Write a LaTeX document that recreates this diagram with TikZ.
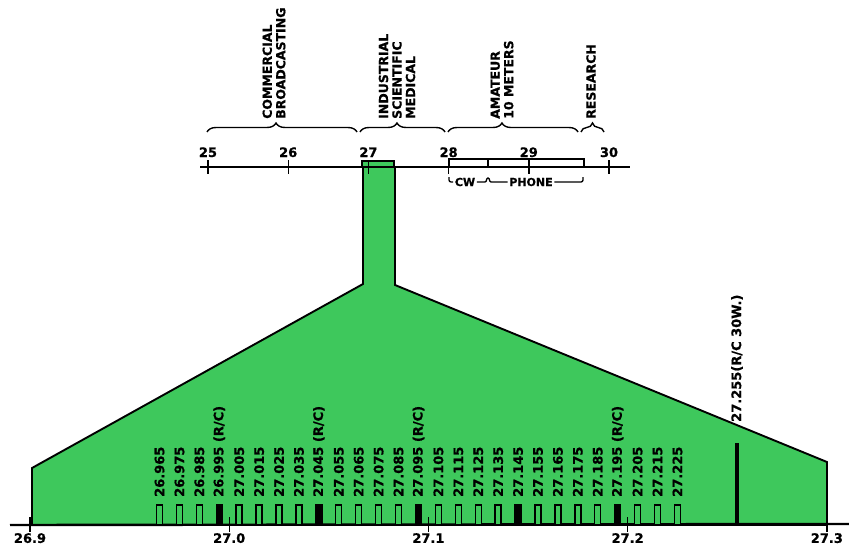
\documentclass[tikz,border=0pt]{standalone}
\usepackage{fontspec}
\setmainfont{DejaVu Sans}[BoldFeatures={FakeBold=0.8}]
\usetikzlibrary{decorations.pathreplacing}

\definecolor{cbgreen}{RGB}{62,200,92}
\newcommand{\rcmark}{ (R/C)}

\tikzset{
  chlabel/.style={rotate=90, anchor=west, inner sep=0pt, font=\bfseries\fontsize{13}{13}\selectfont},
  bandlabel/.style={rotate=90, anchor=west, inner sep=0pt, align=left, font=\bfseries\fontsize{12.5}{13.5}\selectfont},
  axlabel/.style={inner sep=0pt, font=\bfseries\fontsize{13}{13}\selectfont},
  bandbrace/.style={decorate, line width=1.4pt},
}

\begin{document}
\begin{tikzpicture}[x=1pt,y=-1pt]
\useasboundingbox (0,0) rectangle (849,546);

% the 26.9 - 27.3 slice, blown up
\filldraw[fill=cbgreen, draw=black, line width=1.9pt] (32,525) -- (32,468) -- (363,284) -- (363,167) -- (395,167) -- (395,285) -- (827,462) -- (827,525) -- cycle;
\filldraw[fill=cbgreen, draw=black, line width=1.4pt] (362,161) rectangle (394,167);

% upper scale, 25 - 30 mc
\draw[line width=2.4pt] (200,167) -- (630,167);
\foreach \m [count=\k from 0] in {25,...,30} {
  \draw[line width=1.4pt] (208+80.2*\k,160) -- (208+80.2*\k,174);
  \node[axlabel, anchor=base] (mhz\m) at (208+80.2*\k,157) {\m};
}
\draw[line width=1.1pt] (449,159) rectangle (584,167);
\draw[line width=1.1pt] (488,159) -- (488,167);

\node[font=\bfseries\fontsize{11}{11}\selectfont, inner sep=1.5pt] (cw) at (465,182) {CW};
\node[font=\bfseries\fontsize{11}{11}\selectfont, inner sep=1.5pt] (phone) at (531,182) {PHONE};
\draw[line width=1.3pt, rounded corners=2pt] (449,177) |- (cw.west);
\draw[line width=1.3pt] (cw.east) -- (485,182) to[out=0,in=180] (488,178) to[out=0,in=180] (491,182) -- (phone.west);
\draw[line width=1.3pt, rounded corners=2pt] (phone.east) -| (583,177);

% services
\foreach \a/\b/\asp in {207/357/0.46, 360/445/0.435, 448/578/0.415, 581/604/0.5}
  \draw[bandbrace, decoration={brace, amplitude=9pt, aspect=\asp}] (\a,132) -- (\b,132);
\node[bandlabel] (commercial) at (274,119) {COMMERCIAL\\BROADCASTING};
\node[bandlabel] (ism) at (397,119) {INDUSTRIAL\\SCIENTIFIC\\MEDICAL};
\node[bandlabel] (amateur) at (502,119) {AMATEUR\\10 METERS};
\node[bandlabel] (research) at (591,119) {RESEARCH};

% lower scale
\draw[line width=2.4pt] (10,525) -- (849,524);
\foreach \f [count=\k from 0] in {26.9,27.0,27.1,27.2,27.3} {
  \draw[line width=1.4pt] (30+199.2*\k,517) -- (30+199.2*\k,532);
  \node[axlabel, anchor=north] (f\k) at (30+199.2*\k,533) {\f};
}

% citizens band channels
\foreach \lab/\sfx/\col [count=\i from 0] in {26.965//cbgreen, 26.975//cbgreen, 26.985//cbgreen, 26.995/\rcmark/black, 27.005//cbgreen,
    27.015//cbgreen, 27.025//cbgreen, 27.035//cbgreen, 27.045/\rcmark/black, 27.055//cbgreen,
    27.065//cbgreen, 27.075//cbgreen, 27.085//cbgreen, 27.095/\rcmark/black, 27.105//cbgreen,
    27.115//cbgreen, 27.125//cbgreen, 27.135//cbgreen, 27.145//black, 27.155//cbgreen,
    27.165//cbgreen, 27.175//cbgreen, 27.185//cbgreen, 27.195/\rcmark/black, 27.205//cbgreen,
    27.215//cbgreen, 27.225//cbgreen} {
  \filldraw[fill=\col, draw=black, line width=1.4pt] (156.5+19.92*\i,505) rectangle (162.5+19.92*\i,525);
  \node[chlabel] (ch\i) at (159.5+19.92*\i,497) {\lab\sfx};
}
\draw[line width=4.2pt] (737,443) -- (737,525);
\node[chlabel] (rc30) at (737,422) {27.255(R/C 30W.)};
\end{tikzpicture}
\end{document}
